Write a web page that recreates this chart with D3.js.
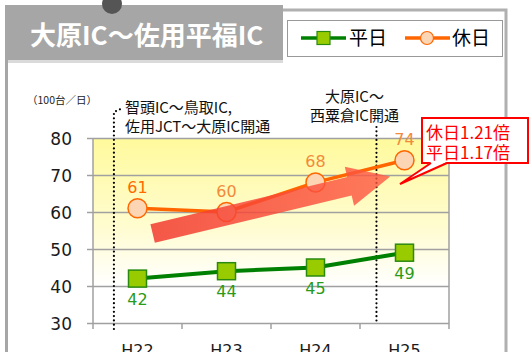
<!DOCTYPE html>
<html>
<head>
<meta charset="utf-8">
<script src="https://cdn.jsdelivr.net/npm/d3@7"></script>
<style>
  body { margin: 0; background: #fff; }
  svg { display: block; }
  text { font-family: "Noto Sans CJK JP", sans-serif; }
  .num { font-family: "DejaVu Sans", Verdana, sans-serif; }
</style>
</head>
<body>
<svg width="530" height="352"></svg>
<script>
"use strict";

// 데이터
const years = ["H22", "H23", "H24", "H25"];
const holiday = [61, 60, 68, 74]; // 休日
const weekday = [42, 44, 45, 49]; // 平日
const yTicks = [30, 40, 50, 60, 70, 80];
const seriesNames = ["平日", "休日"];
const titleText = "大原IC～佐用平福IC";
const unitText = "（100台／日）";
const event1 = ["智頭IC～鳥取IC,", "佐用JCT～大原IC開通"];
const event2 = ["大原IC～", "西粟倉IC開通"];
const ratioText = ["休日1.21倍", "平日1.17倍"];

const svg = d3.select("svg");
const pLeft = 93, pRight = 449, pTop = 138, pBottom = 323;

const x = d3.scaleBand().domain(years).range([pLeft, pRight]).padding(0);
const bw = x.bandwidth();
const y = d3.scaleLinear().domain([30, 80]).range([pBottom, pTop]);
// 카테고리 인덱스 -> 중심 좌표
const xi = d3.scaleLinear().domain([0, years.length - 1])
  .range([x(years[0]) + bw / 2, x(years[years.length - 1]) + bw / 2]);

const defs = svg.append("defs");
const bg = defs.append("linearGradient").attr("id", "bg")
  .attr("x1", 0).attr("y1", 0).attr("x2", 0).attr("y2", 1);
bg.append("stop").attr("offset", "0%").attr("stop-color", "#fffa9c");
bg.append("stop").attr("offset", "60%").attr("stop-color", "#fffcd0");
bg.append("stop").attr("offset", "100%").attr("stop-color", "#ffffff");

const ag = defs.append("linearGradient").attr("id", "arrowg")
  .attr("x1", 0).attr("y1", 0).attr("x2", 1).attr("y2", 0);
ag.append("stop").attr("offset", "0%").attr("stop-color", "#f23a2e").attr("stop-opacity", 0.85);
ag.append("stop").attr("offset", "100%").attr("stop-color", "#ff5a44").attr("stop-opacity", 0.8);

// 프레임
svg.append("rect").attr("x", 5).attr("y", 5).attr("width", 278).attr("height", 55)
  .style("fill", "#a6a6a6");
svg.append("rect").attr("x", 8).attr("y", 60).attr("width", 275).attr("height", 3)
  .style("fill", "#dadada");
svg.append("line").attr("x1", 6.5).attr("y1", 5).attr("x2", 6.5).attr("y2", 352)
  .style("stroke", "#a6a6a6").style("stroke-width", 3);
svg.append("path").attr("d", "M283,10H506V352")
  .style("fill", "none").style("stroke", "#b0b0b0").style("stroke-width", 3);
svg.append("circle").attr("cx", 112).attr("cy", 4).attr("r", 10).style("fill", "#555");

svg.append("text").attr("x", 30).attr("y", 45)
  .style("font-size", "26px").style("font-weight", "bold").style("fill", "#fff")
  .text(titleText);

// 범례
svg.append("rect").attr("x", 287.5).attr("y", 20.5).attr("width", 215).attr("height", 36)
  .style("fill", "#fff").style("stroke", "#999").style("stroke-width", 1);
const lg = svg.append("g").attr("transform", "translate(0,38)");
lg.append("line").attr("x1", 301).attr("x2", 346)
  .style("stroke", "#008000").style("stroke-width", 3.5);
lg.append("rect").attr("x", 317).attr("y", -6.5).attr("width", 13).attr("height", 13)
  .style("fill", "#99cc00").style("stroke", "#2a8a10").style("stroke-width", 1.2);
lg.append("text").attr("x", 349).attr("y", 7).style("font-size", "19px").text(seriesNames[0]);
lg.append("line").attr("x1", 405).attr("x2", 450)
  .style("stroke", "#ff6600").style("stroke-width", 3.5);
lg.append("circle").attr("cx", 427).attr("r", 6.5)
  .style("fill", "#fcd5b5").style("stroke", "#ff6600").style("stroke-width", 1.2);
lg.append("text").attr("x", 452).attr("y", 7).style("font-size", "19px").text(seriesNames[1]);

// 플롯 배경
svg.append("rect").attr("x", pLeft).attr("y", pTop)
  .attr("width", pRight - pLeft).attr("height", y(40) - pTop)
  .style("fill", "url(#bg)");

// 그리드 + y축
const ya = svg.append("g").attr("transform", `translate(${pLeft},0)`)
  .call(d3.axisLeft(y).tickValues(yTicks).tickSize(6).tickPadding(15));
ya.select(".domain").remove();
ya.selectAll(".tick line").attr("x2", pRight - pLeft)
  .style("stroke", "#a0a0a0").style("stroke-width", 1.5);
ya.selectAll(".tick").append("line").attr("x1", -6).attr("x2", 0)
  .style("stroke", "#a0a0a0").style("stroke-width", 1.5);
ya.selectAll(".tick text").attr("class", "num")
  .style("font-size", "17px").style("fill", "#1a1a1a").attr("dy", "0.36em");

svg.append("line").attr("x1", pLeft).attr("x2", pLeft).attr("y1", pTop).attr("y2", pBottom + 6)
  .style("stroke", "#a0a0a0").style("stroke-width", 1.5);
svg.append("line").attr("x1", pRight).attr("x2", pRight).attr("y1", pTop).attr("y2", pBottom + 6)
  .style("stroke", "#a0a0a0").style("stroke-width", 1.5);

// x축 눈금 (구간 경계)
svg.selectAll(".xtick").data(years.slice(1)).join("line")
  .attr("x1", d => x(d)).attr("x2", d => x(d))
  .attr("y1", pBottom).attr("y2", pBottom + 6)
  .style("stroke", "#a0a0a0").style("stroke-width", 1.5);
svg.selectAll(".xlab").data(years).join("text").attr("class", "num")
  .attr("x", d => x(d) + bw / 2).attr("y", 356)
  .attr("text-anchor", "middle").style("font-size", "16px").style("fill", "#1a1a1a")
  .text(d => d);

svg.append("text").attr("x", 27).attr("y", 104)
  .style("font-size", "10.5px").style("fill", "#222").text(unitText);

// 개통 시점 점선
const e1x = xi(-0.265), e2x = xi(2.685);
svg.append("path").attr("d", `M${e1x},${pBottom + 6}V112L${e1x + 9},108`)
  .style("fill", "none").style("stroke", "#000").style("stroke-width", 2.2)
  .style("stroke-linecap", "round").style("stroke-dasharray", "0,4.3");
svg.append("line").attr("x1", e2x).attr("x2", e2x).attr("y1", 127).attr("y2", pBottom)
  .style("stroke", "#000").style("stroke-width", 2.2)
  .style("stroke-linecap", "round").style("stroke-dasharray", "0,4.3");

svg.selectAll(".ev1").data(event1).join("text")
  .attr("x", e1x + 11).attr("y", (d, i) => 113 + i * 19)
  .style("font-size", "15px").style("fill", "#111").text(d => d);
svg.selectAll(".ev2").data(event2).join("text")
  .attr("x", e2x - 22).attr("y", (d, i) => 102 + i * 19).attr("text-anchor", "middle")
  .style("font-size", "15px").style("fill", "#111").text(d => d);

// 休日 라인
const line = d3.line().x((d, i) => xi(i)).y(d => y(d));
svg.append("path").datum(holiday).attr("d", line)
  .style("fill", "none").style("stroke", "#ff6600").style("stroke-width", 3.5);
svg.selectAll(".hc").data(holiday).join("circle")
  .attr("cx", (d, i) => xi(i)).attr("cy", d => y(d)).attr("r", 9.5)
  .style("fill", "#fcd5b5").style("stroke", "#ff6600").style("stroke-width", 1.5);

// 平日 라인
svg.append("path").datum(weekday).attr("d", line)
  .style("fill", "none").style("stroke", "#008000").style("stroke-width", 4);
svg.selectAll(".wr").data(weekday).join("rect")
  .attr("x", (d, i) => xi(i) - 9).attr("y", d => y(d) - 8.5)
  .attr("width", 18).attr("height", 17)
  .style("fill", "#99cc00").style("stroke", "#2a8a10").style("stroke-width", 1.5);

// 증가 화살표
const p0 = [xi(0.17), y(54.2)], p1 = [xi(2.84), y(69.6)];
const dx = p1[0] - p0[0], dy = p1[1] - p0[1], len = Math.hypot(dx, dy);
const u = [dx / len, dy / len], n = [-u[1], u[0]];
const sw = 9.5, hw = 20, hl = 42;
const hb = [p1[0] - u[0] * hl, p1[1] - u[1] * hl];
const pt = (p, k) => [p[0] + n[0] * k, p[1] + n[1] * k];
const arrowPts = [pt(p0, -sw), pt(hb, -sw), pt(hb, -hw), p1, pt(hb, hw), pt(hb, sw), pt(p0, sw)];
svg.append("polygon").attr("points", arrowPts.map(p => p.join(",")).join(" "))
  .style("fill", "url(#arrowg)");

// 값 라벨
svg.selectAll(".hl").data(holiday).join("text").attr("class", "num")
  .attr("x", (d, i) => xi(i)).attr("y", d => y(d) - 15).attr("text-anchor", "middle")
  .style("font-size", "16px").style("fill", (d, i) => i === 0 ? "#ff6a00" : "#f28a3c")
  .text(d => d);
svg.selectAll(".wl").data(weekday).join("text").attr("class", "num")
  .attr("x", (d, i) => xi(i)).attr("y", d => y(d) + 26).attr("text-anchor", "middle")
  .style("font-size", "16px").style("fill", "#2a9a1a")
  .text(d => d);

// 배율 말풍선
svg.append("rect").attr("x", 422).attr("y", 118).attr("width", 106).attr("height", 45)
  .style("fill", "#fff").style("stroke", "#ff0000").style("stroke-width", 2);
svg.append("polygon").attr("points", "431,162 400,184 447,162")
  .style("fill", "#fff");
svg.append("path").attr("d", "M431,163L400,184L447,163")
  .style("fill", "none").style("stroke", "#ff0000").style("stroke-width", 2);
svg.selectAll(".rt").data(ratioText).join("text")
  .attr("x", 426).attr("y", (d, i) => 138.5 + i * 20)
  .style("font-size", "17px").style("fill", "#ff0000").text(d => d);
</script>
</body>
</html>
